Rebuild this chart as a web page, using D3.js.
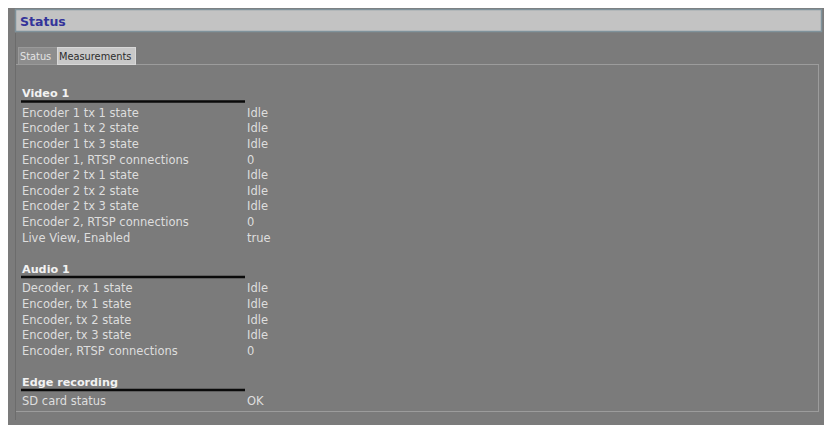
<!DOCTYPE html>
<html>
<head>
<meta charset="utf-8">
<script src="https://cdn.jsdelivr.net/npm/d3@7"></script>
<style>
  body { margin: 0; background: #fff; }
  svg { display: block; font-family: 'DejaVu Sans', Verdana, sans-serif; }
</style>
</head>
<body>
<div id="page"></div>
<script>
const title = 'Status';
const tabs = ['Status', 'Measurements'];
const sections = ['Video 1', 'Audio 1', 'Edge recording'];
const video1Labels = [
  'Encoder 1 tx 1 state', 'Encoder 1 tx 2 state', 'Encoder 1 tx 3 state',
  'Encoder 1, RTSP connections', 'Encoder 2 tx 1 state', 'Encoder 2 tx 2 state',
  'Encoder 2 tx 3 state', 'Encoder 2, RTSP connections', 'Live View, Enabled'
];
const video1Values = ['Idle', 'Idle', 'Idle', '0', 'Idle', 'Idle', 'Idle', '0', 'true'];
const audio1Labels = [
  'Decoder, rx 1 state', 'Encoder, tx 1 state', 'Encoder, tx 2 state',
  'Encoder, tx 3 state', 'Encoder, RTSP connections'
];
const audio1Values = ['Idle', 'Idle', 'Idle', 'Idle', '0'];
const edgeLabels = ['SD card status'];
const edgeValues = ['OK'];

const W = 824, H = 425;
const svg = d3.select('#page').append('svg').attr('width', W).attr('height', H);

// gray page body
svg.append('rect').attr('x', 8).attr('y', 8).attr('width', W - 8).attr('height', H - 8)
  .attr('fill', '#7b7b7b');

// header bar
svg.append('rect').attr('x', 15.5).attr('y', 9.5).attr('width', 806).attr('height', 22)
  .attr('fill', '#c3c3c3').attr('stroke', '#7f929b').attr('stroke-width', 1.5);
svg.append('text').attr('x', 20).attr('y', 25.5)
  .attr('font-size', 12.5).attr('font-weight', 'bold').attr('fill', '#34349a')
  .text(title);

// panel under tabs
svg.append('rect').attr('x', 15.5).attr('y', 64.5).attr('width', 803).attr('height', 347)
  .attr('fill', 'none').attr('stroke', '#9c9c9c');
svg.append('line').attr('x1', 15.5).attr('x2', 15.5).attr('y1', 33).attr('y2', 420)
  .attr('stroke', '#6c6c6c');

// tabs
const tabX = d3.scaleOrdinal().domain(tabs).range([18, 57]);
const tabW = d3.scaleOrdinal().domain(tabs).range([39, 78]);
const tab = svg.append('g').selectAll('g').data(tabs).enter().append('g');
tab.append('rect')
  .attr('x', d => tabX(d) + 0.5).attr('y', 47.5)
  .attr('width', d => tabW(d)).attr('height', 17)
  .attr('fill', (d, i) => (i === 0 ? '#8d8d8d' : '#c8c8c8'))
  .attr('stroke', (d, i) => (i === 0 ? '#9a9a9a' : '#d8d8d8'));
tab.append('text')
  .attr('x', d => tabX(d) + 2).attr('y', 60)
  .attr('font-size', 9.8)
  .attr('fill', (d, i) => (i === 0 ? '#e4e4e4' : '#2d2d2d'))
  .text(d => d);

// build row slots
const groups = [
  { name: sections[0], labels: video1Labels, values: video1Values },
  { name: sections[1], labels: audio1Labels, values: audio1Values },
  { name: sections[2], labels: edgeLabels, values: edgeValues }
];
let slot = 0;
groups.forEach(g => {
  g.slot = slot;
  g.rows = g.labels.map((l, i) => ({ label: l, value: g.values[i], slot: slot + 1.25 + i }));
  slot += 1.25 + (g.labels.length - 1) + 2;
});

const y = d3.scaleLinear().domain([0, 1]).range([93, 108.6]);
const x = d3.scaleOrdinal().domain(['label', 'value']).range([22, 247]);

const sec = svg.append('g').selectAll('g').data(groups).enter().append('g');
sec.append('text')
  .attr('x', x('label')).attr('y', d => y(d.slot) + 4.3)
  .attr('font-size', 11.2).attr('font-weight', 'bold').attr('fill', '#f2f2f2')
  .text(d => d.name);
sec.append('line')
  .attr('x1', 21).attr('x2', 245)
  .attr('y1', d => y(d.slot) + 8.5).attr('y2', d => y(d.slot) + 8.5)
  .attr('stroke', '#0a0a0a').attr('stroke-width', 2.5);

const row = sec.selectAll('g.row').data(d => d.rows).enter().append('g').attr('class', 'row');
row.append('text')
  .attr('x', x('label')).attr('y', d => y(d.slot) + 4.3)
  .attr('font-size', 11.5).attr('fill', '#dedede')
  .text(d => d.label);
row.append('text')
  .attr('x', x('value')).attr('y', d => y(d.slot) + 4.3)
  .attr('font-size', 11.5).attr('fill', '#dedede')
  .text(d => d.value);
</script>
</body>
</html>
